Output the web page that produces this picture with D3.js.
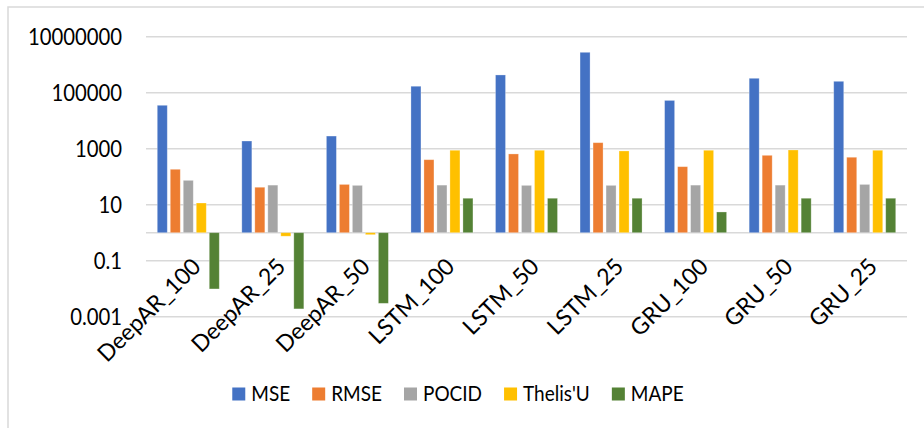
<!DOCTYPE html>
<html><head><meta charset="utf-8">
<script src="https://cdn.jsdelivr.net/npm/d3@7"></script>
<style>body{margin:0;background:#fff}svg{display:block}text{font-family:Lato,"Open Sans",sans-serif;fill:#000}</style>
</head><body>
<svg id="c" width="924" height="428"></svg>
<script>
const categories = ["DeepAR_100","DeepAR_25","DeepAR_50","LSTM_100","LSTM_50","LSTM_25","GRU_100","GRU_50","GRU_25"];
const seriesNames = ["MSE","RMSE","POCID","Thelis'U","MAPE"];
const colors = ["#4472C4","#ED7D31","#A5A5A5","#FFC000","#548235"];
const MSE    = [35500, 1880, 2830, 170000, 430000, 2770000, 53000, 327000, 255000];
const RMSE   = [184, 42, 53, 405, 650, 1640, 228, 580, 495];
const POCID  = [74, 50, 49, 50, 49, 49, 50, 50, 53];
const ThelisU= [11.5, 0.75, 0.85, 880, 880, 830, 880, 900, 880];
const MAPE   = [0.0098, 0.0019, 0.003, 17, 17, 17, 5.5, 17, 17];
const yTicks = [0.001, 0.1, 10, 1000, 100000, 10000000];
const yTickLabels = ["0.001","0.1","10","1000","100000","10000000"];
const values = [MSE, RMSE, POCID, ThelisU, MAPE];

const svg = d3.select("#c");
svg.append("rect").attr("x",8).attr("y",7).attr("width",930).attr("height",440)
  .attr("fill","#fff").attr("stroke","#d9d9d9").attr("stroke-width",1.5);

const left = 146, right = 907;
const y = d3.scaleLog().domain([1e-3, 1e7]).range([316.7, 36.7]);
const x0 = d3.scaleBand().domain(categories).range([left, right]);
const step = x0.bandwidth();
const x1 = d3.scaleBand().domain(seriesNames).range([step/2 - 31, step/2 + 31]).paddingInner(0.23);

const gridVals = yTicks.concat([1]);
svg.append("g").selectAll("line").data(gridVals).join("line")
  .attr("x1",left).attr("x2",right)
  .attr("y1",d=>y(d)).attr("y2",d=>y(d))
  .attr("stroke","#d9d9d9").attr("stroke-width",1.5);

svg.append("g").selectAll("text").data(yTicks).join("text")
  .attr("transform",d=>`translate(122,${y(d)}) scale(1,1.14)`)
  .attr("dy","0.36em")
  .attr("text-anchor","end").style("font-size","20.3px")
  .text((d,i)=>yTickLabels[i]);

const base = y(1);
const g = svg.append("g");
categories.forEach((c,ci)=>{
  seriesNames.forEach((s,si)=>{
    const v = values[si][ci];
    const yv = y(v);
    g.append("rect")
      .attr("x", x0(c) + x1(s))
      .attr("width", x1.bandwidth())
      .attr("y", Math.min(yv, base))
      .attr("height", Math.abs(base - yv))
      .attr("fill", colors[si])
      .attr("stroke","#fff").attr("stroke-opacity",0.35).attr("stroke-width",0.8);
  });
});

svg.append("g").selectAll("text").data(categories).join("text")
  .attr("transform", d=>`translate(${x0(d)+step/2+14},${268}) rotate(-45)`)
  .attr("text-anchor","end").style("font-size","23px")
  .text(d=>d);

const lg = svg.append("g");
let lx = 0;
seriesNames.forEach((s,i)=>{
  const it = lg.append("g");
  it.append("rect").attr("x",0).attr("y",-6.5).attr("width",13).attr("height",13).attr("fill",colors[i]);
  const t = it.append("text").attr("transform","translate(19,0) scale(1,1.08)").attr("dy","0.36em").style("font-size","19px").text(s);
  const w = 19 + t.node().getComputedTextLength();
  it.attr("transform",`translate(${lx},0)`);
  lx += w + 22;
});
const total = lx - 22;
lg.attr("transform",`translate(${458 - total/2},394)`);
</script>
</body></html>
